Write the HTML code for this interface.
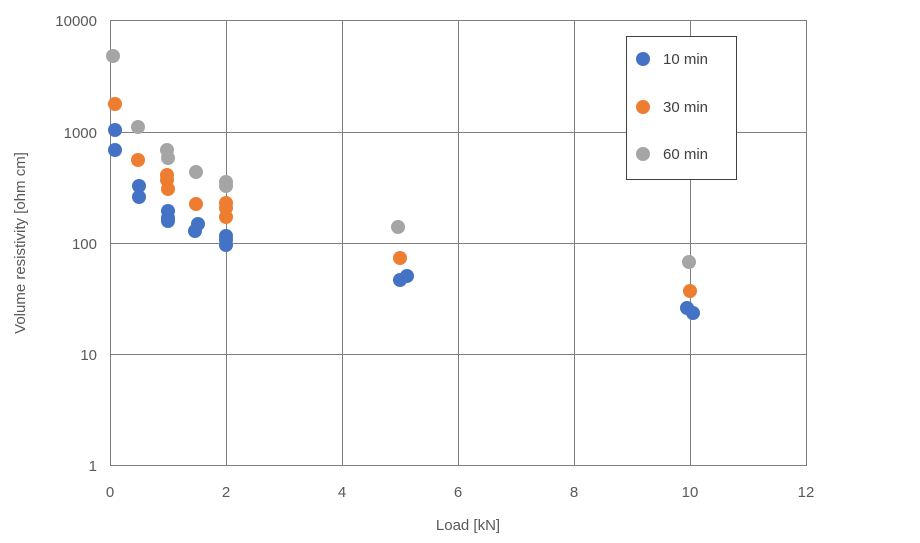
<!DOCTYPE html>
<html><head><meta charset="utf-8"><style>
html,body{margin:0;padding:0;background:#fff;}
svg{display:block;font-family:"Liberation Sans",Arial,sans-serif;}
</style></head><body>
<svg width="920" height="543" viewBox="0 0 920 543" xmlns="http://www.w3.org/2000/svg">
<g stroke="#7f7f7f" stroke-width="1" fill="none">
<rect x="110.5" y="20.5" width="696" height="445"/>
<line x1="110" y1="132.5" x2="806" y2="132.5"/>
<line x1="110" y1="243.5" x2="806" y2="243.5"/>
<line x1="110" y1="354.5" x2="806" y2="354.5"/>
<line x1="226.5" y1="20" x2="226.5" y2="465"/>
<line x1="342.5" y1="20" x2="342.5" y2="465"/>
<line x1="458.5" y1="20" x2="458.5" y2="465"/>
<line x1="574.5" y1="20" x2="574.5" y2="465"/>
<line x1="690.5" y1="20" x2="690.5" y2="465"/>
</g>
<g font-size="15" fill="#595959" text-anchor="end">
<text x="97" y="26">10000</text>
<text x="97" y="138">1000</text>
<text x="97" y="249">100</text>
<text x="97" y="360">10</text>
<text x="97" y="471">1</text>
</g>
<g font-size="15" fill="#595959" text-anchor="middle">
<text x="110" y="497">0</text>
<text x="226" y="497">2</text>
<text x="342" y="497">4</text>
<text x="458" y="497">6</text>
<text x="574" y="497">8</text>
<text x="690" y="497">10</text>
<text x="806" y="497">12</text>
<text x="468" y="530">Load [kN]</text>
<text transform="translate(25,243) rotate(-90)">Volume resistivity [ohm cm]</text>
</g>
<g fill="#a5a5a5">
<circle cx="113" cy="56" r="7"/><circle cx="138" cy="127" r="7"/><circle cx="167" cy="150" r="7"/><circle cx="168" cy="158" r="7"/><circle cx="196" cy="172" r="7"/><circle cx="226" cy="182" r="7"/><circle cx="226" cy="186" r="7"/><circle cx="398" cy="227" r="7"/><circle cx="689" cy="262" r="7"/>
</g>
<g fill="#ed7d31">
<circle cx="115" cy="104" r="7"/><circle cx="138" cy="160" r="7"/><circle cx="167" cy="175" r="7"/><circle cx="167" cy="180" r="7"/><circle cx="168" cy="189" r="7"/><circle cx="196" cy="204" r="7"/><circle cx="226" cy="203" r="7"/><circle cx="226" cy="208" r="7"/><circle cx="226" cy="217" r="7"/><circle cx="400" cy="258" r="7"/><circle cx="690" cy="291" r="7"/>
</g>
<g fill="#4472c4">
<circle cx="115" cy="130" r="7"/><circle cx="115" cy="150" r="7"/><circle cx="139" cy="186" r="7"/><circle cx="139" cy="197" r="7"/><circle cx="168" cy="211" r="7"/><circle cx="168" cy="218" r="7"/><circle cx="168" cy="221" r="7"/><circle cx="195" cy="231" r="7"/><circle cx="198" cy="224" r="7"/><circle cx="226" cy="236" r="7"/><circle cx="226" cy="240" r="7"/><circle cx="226" cy="245" r="7"/><circle cx="400" cy="280" r="7"/><circle cx="407" cy="276" r="7"/><circle cx="687" cy="308" r="7"/><circle cx="693" cy="313" r="7"/>
</g>
<rect x="626.5" y="36.5" width="110" height="143" fill="#fff" stroke="#404040" stroke-width="1"/>
<circle cx="643" cy="59" r="7" fill="#4472c4"/>
<circle cx="643" cy="107" r="7" fill="#ed7d31"/>
<circle cx="643" cy="154" r="7" fill="#a5a5a5"/>
<g font-size="15" fill="#404040">
<text x="663" y="64">10 min</text>
<text x="663" y="112">30 min</text>
<text x="663" y="159">60 min</text>
</g>
</svg>
</body></html>
